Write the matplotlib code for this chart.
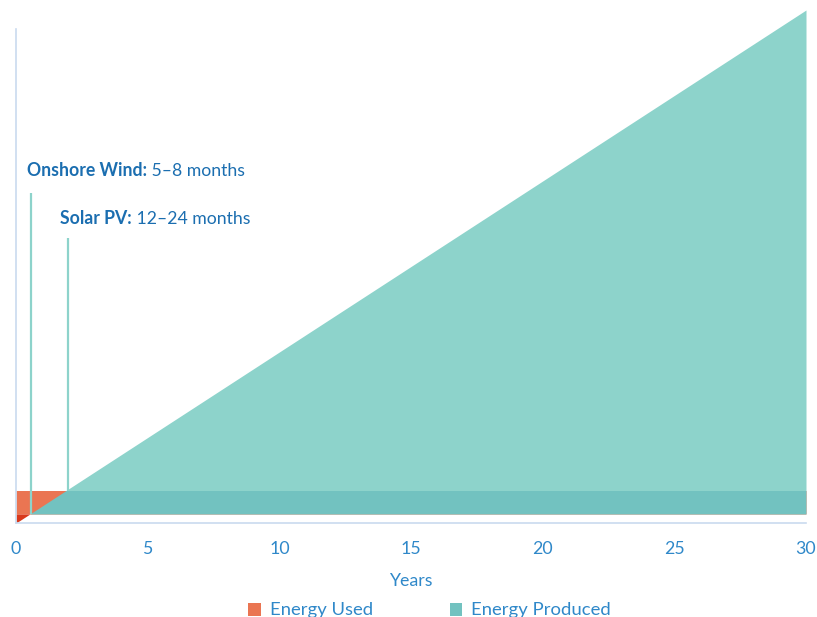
import matplotlib
matplotlib.use("Agg")
import matplotlib.pyplot as plt
from matplotlib.patches import Patch
import numpy as np

plt.rcParams['font.family'] = ['Lato', 'DejaVu Sans']

# ---- data (years, energy in arbitrary units) ----
years = [0, 30]
energy_produced = [0, 513]          # cumulative energy produced (line from origin)
energy_used = [9, 32.5]             # energy used band (bottom, top)
payback_labels = ["Onshore Wind:", "Solar PV:"]
payback_ranges = [" 5\u20138 months", " 12\u201324 months"]
payback_years = [0.57, 1.96]        # marker line positions
payback_tops = [330, 285]           # marker line tops
x_ticks = [0, 5, 10, 15, 20, 25, 30]

C_LIGHT = "#8DD3CB"
C_DARK = "#72C2C0"
C_ORANGE = "#EA7552"
C_RED = "#D9391C"
C_TEXT = "#1B6EB0"
C_TICK = "#2F88C9"
C_AXIS = "#CADAEF"

fig = plt.figure(figsize=(8.17, 6.17), dpi=100)
ax = fig.add_axes([16/817, (617-523)/617, (806-16)/817, (523-10)/617])

x = np.linspace(years[0], years[1], 3001)
line = np.interp(x, years, energy_produced)
lo, hi = energy_used

# light teal triangle above the band
ax.fill_between(x, hi, line, where=line >= hi, color=C_LIGHT, lw=0, interpolate=True)
# energy used band (orange) then produced portion of the band (dark teal)
ax.fill_between(x, lo, hi, color=C_ORANGE, lw=0)
ax.fill_between(x, lo, np.minimum(line, hi), where=line >= lo, color=C_DARK, lw=0, interpolate=True)
# small red wedge below the band
ax.fill_between(x, line, lo, where=line <= lo, color=C_RED, lw=0, interpolate=True)

# payback marker lines
ax.vlines(payback_years[0], lo, payback_tops[0], color=C_LIGHT, lw=1.6)
ax.vlines(payback_years[1], hi, payback_tops[1], color=C_LIGHT, lw=1.6)

# annotations
fs = 12.7
t1 = ax.text(0.42, 353, payback_labels[0], fontsize=fs, fontweight='bold', color=C_TEXT, va='center', ha='left')
ax.annotate(payback_ranges[0], xy=(1, 0), xycoords=t1, va='bottom', ha='left', fontsize=fs, color=C_TEXT)
t2 = ax.text(1.67, 304, payback_labels[1], fontsize=fs, fontweight='bold', color=C_TEXT, va='center', ha='left')
ax.annotate(payback_ranges[1], xy=(1, 0), xycoords=t2, va='bottom', ha='left', fontsize=fs, color=C_TEXT)

ax.set_xlim(years[0], years[1])
ax.set_ylim(0, 513)
ax.set_xticks(x_ticks)
ax.set_xticklabels([str(v) for v in x_ticks])
ax.set_yticks([])
ax.tick_params(axis='x', length=0, pad=13, labelsize=12.8, labelcolor=C_TICK)
for s in ['top', 'right']:
    ax.spines[s].set_visible(False)
ax.spines['left'].set_color(C_AXIS)
ax.spines['bottom'].set_color(C_AXIS)
ax.spines['left'].set_bounds(0, 494)
ax.spines['left'].set_linewidth(1.2)
ax.spines['bottom'].set_linewidth(1.2)
ax.set_xlabel("Years", fontsize=12.8, color=C_TICK, labelpad=11.5)

handles = [Patch(facecolor=C_ORANGE, edgecolor='none', label='Energy Used'),
           Patch(facecolor=C_DARK, edgecolor='none', label='Energy Produced')]
leg = fig.legend(handles=handles, loc='center', bbox_to_anchor=(429.5/817, (617-610.5)/617), ncol=2,
                 frameon=False, fontsize=13.3, handlelength=0.7, handleheight=0.7,
                 handletextpad=0.45, columnspacing=4.15, borderaxespad=0, borderpad=0)
for t in leg.get_texts():
    t.set_color(C_TICK)

fig.savefig("out.png", dpi=100)
